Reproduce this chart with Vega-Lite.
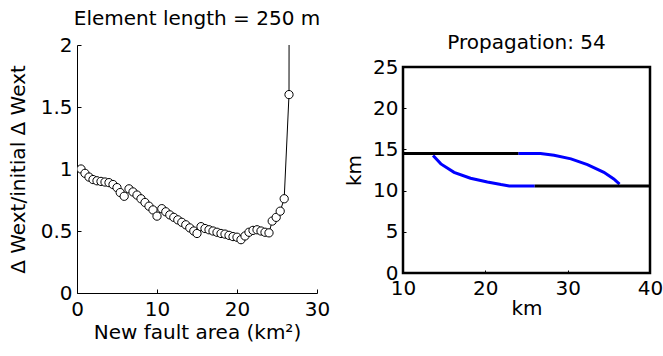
{
  "$schema": "https://vega.github.io/schema/vega-lite/v6.json",
  "padding": {"left": 8, "top": 9, "right": 2, "bottom": 2},
  "background": "white",
  "config": {
    "font": "DejaVu Sans",
    "view": {"stroke": null},
    "title": {"fontSize": 20, "fontWeight": "normal", "color": "#000000"},
    "axis": {
      "grid": false,
      "labelFontSize": 20,
      "titleFontSize": 20,
      "titleFontWeight": "normal",
      "labelColor": "#000000",
      "titleColor": "#000000",
      "domainColor": "#000000",
      "tickColor": "#000000",
      "labelFlush": false,
      "labelOverlap": false
    }
  },
  "datasets": {
    "ratio": [
      {"area": 0.5, "ratio": 1.0},
      {"area": 1.0, "ratio": 0.965},
      {"area": 1.5, "ratio": 0.935},
      {"area": 2.0, "ratio": 0.915},
      {"area": 2.5, "ratio": 0.905},
      {"area": 3.0, "ratio": 0.9},
      {"area": 3.5, "ratio": 0.895},
      {"area": 4.0, "ratio": 0.89},
      {"area": 4.5, "ratio": 0.875},
      {"area": 5.0, "ratio": 0.85},
      {"area": 5.4, "ratio": 0.81},
      {"area": 5.9, "ratio": 0.78},
      {"area": 6.5, "ratio": 0.84},
      {"area": 7.0, "ratio": 0.815},
      {"area": 7.5, "ratio": 0.79},
      {"area": 8.0, "ratio": 0.76},
      {"area": 8.5, "ratio": 0.73},
      {"area": 9.0, "ratio": 0.7},
      {"area": 9.5, "ratio": 0.67},
      {"area": 10.0, "ratio": 0.62},
      {"area": 10.6, "ratio": 0.68},
      {"area": 11.1, "ratio": 0.655},
      {"area": 11.6, "ratio": 0.63},
      {"area": 12.1, "ratio": 0.61},
      {"area": 12.6, "ratio": 0.59},
      {"area": 13.1, "ratio": 0.57},
      {"area": 13.6, "ratio": 0.55},
      {"area": 14.1, "ratio": 0.525},
      {"area": 14.6, "ratio": 0.5},
      {"area": 15.0, "ratio": 0.48},
      {"area": 15.5, "ratio": 0.535},
      {"area": 16.0, "ratio": 0.52},
      {"area": 16.5, "ratio": 0.51},
      {"area": 17.0, "ratio": 0.5},
      {"area": 17.5, "ratio": 0.49},
      {"area": 18.0, "ratio": 0.48},
      {"area": 18.5, "ratio": 0.475},
      {"area": 19.0, "ratio": 0.465},
      {"area": 19.5, "ratio": 0.455},
      {"area": 20.0, "ratio": 0.45},
      {"area": 20.5, "ratio": 0.43},
      {"area": 21.0, "ratio": 0.46},
      {"area": 21.5, "ratio": 0.49},
      {"area": 22.0, "ratio": 0.505},
      {"area": 22.5, "ratio": 0.51},
      {"area": 23.0, "ratio": 0.5},
      {"area": 23.5, "ratio": 0.49},
      {"area": 24.0, "ratio": 0.485},
      {"area": 24.4, "ratio": 0.58},
      {"area": 24.9, "ratio": 0.61},
      {"area": 25.4, "ratio": 0.66},
      {"area": 25.9, "ratio": 0.76},
      {"area": 26.5, "ratio": 1.6},
      {"area": 26.55, "ratio": 4.0}
    ],
    "faults": [
      {"seg": "upper-new", "color": "blue", "ord": 1, "x": 24.0, "y": 14.5},
      {"seg": "upper-new", "color": "blue", "ord": 2, "x": 26.7, "y": 14.5},
      {"seg": "upper-new", "color": "blue", "ord": 3, "x": 28.35, "y": 14.29},
      {"seg": "upper-new", "color": "blue", "ord": 4, "x": 30.4, "y": 13.85},
      {"seg": "upper-new", "color": "blue", "ord": 5, "x": 32.4, "y": 13.16},
      {"seg": "upper-new", "color": "blue", "ord": 6, "x": 34.4, "y": 12.22},
      {"seg": "upper-new", "color": "blue", "ord": 7, "x": 35.6, "y": 11.42},
      {"seg": "upper-new", "color": "blue", "ord": 8, "x": 36.3, "y": 10.8},
      {"seg": "lower-new", "color": "blue", "ord": 1, "x": 13.65, "y": 14.25},
      {"seg": "lower-new", "color": "blue", "ord": 2, "x": 14.6, "y": 13.24},
      {"seg": "lower-new", "color": "blue", "ord": 3, "x": 16.2, "y": 12.22},
      {"seg": "lower-new", "color": "blue", "ord": 4, "x": 18.2, "y": 11.5},
      {"seg": "lower-new", "color": "blue", "ord": 5, "x": 20.25, "y": 11.05},
      {"seg": "lower-new", "color": "blue", "ord": 6, "x": 21.9, "y": 10.73},
      {"seg": "lower-new", "color": "blue", "ord": 7, "x": 22.9, "y": 10.57},
      {"seg": "lower-new", "color": "blue", "ord": 8, "x": 26.0, "y": 10.57},
      {"seg": "upper-old", "color": "black", "ord": 1, "x": 10.0, "y": 14.5},
      {"seg": "upper-old", "color": "black", "ord": 2, "x": 24.0, "y": 14.5},
      {"seg": "lower-old", "color": "black", "ord": 1, "x": 26.0, "y": 10.57},
      {"seg": "lower-old", "color": "black", "ord": 2, "x": 40.0, "y": 10.57}
    ],
    "frame": [
      {"x": 10, "x2": 40, "y": 0, "y2": 25}
    ]
  },
  "hconcat": [
    {
      "width": 240,
      "height": 248,
      "title": {"text": "Element length = 250 m", "offset": 6},
      "data": {"name": "ratio"},
      "layer": [
        {
          "mark": {"type": "line", "color": "#000000", "strokeWidth": 1, "clip": true},
          "encoding": {
            "x": {
              "field": "area", "type": "quantitative",
              "scale": {"domain": [0, 30], "nice": false, "zero": false},
              "axis": {"title": "New fault area (km²)", "values": [0, 10, 20, 30], "tickSize": -4, "labelPadding": 10, "titlePadding": 3}
            },
            "y": {
              "field": "ratio", "type": "quantitative",
              "scale": {"domain": [0, 2], "nice": false, "zero": false},
              "axis": {"title": "Δ Wext/initial Δ Wext", "values": [0, 0.5, 1, 1.5, 2], "format": "~g", "tickSize": -4, "labelPadding": 9, "titlePadding": 12}
            }
          }
        },
        {
          "mark": {"type": "point", "shape": "circle", "filled": true, "fill": "#ffffff", "stroke": "#000000", "strokeWidth": 1, "size": 68, "opacity": 1, "clip": true},
          "encoding": {
            "x": {"field": "area", "type": "quantitative"},
            "y": {"field": "ratio", "type": "quantitative"}
          }
        }
      ]
    },
    {
      "width": 247,
      "height": 228,
      "title": {"text": "Propagation: 54", "offset": -8},
      "layer": [
        {
          "data": {"name": "faults"},
          "mark": {"type": "line", "strokeWidth": 3, "clip": true},
          "encoding": {
            "x": {
              "field": "x", "type": "quantitative",
              "scale": {"domain": [10, 40], "nice": false, "zero": false},
              "axis": {"title": "km", "values": [10, 20, 30, 40], "domain": false, "tickSize": -3, "labelPadding": 8, "titlePadding": 0}
            },
            "y": {
              "field": "y", "type": "quantitative",
              "scale": {"domain": [0, 25], "nice": false, "zero": false, "range": [228, 22]},
              "axis": {"title": "km", "values": [0, 5, 10, 15, 20, 25], "domain": false, "tickSize": -3, "labelPadding": 8, "titlePadding": 8}
            },
            "color": {
              "field": "color", "type": "nominal",
              "scale": {"domain": ["blue", "black"], "range": ["#0000ff", "#000000"]},
              "legend": null
            },
            "detail": {"field": "seg", "type": "nominal"},
            "order": {"field": "ord", "type": "quantitative"}
          }
        },
        {
          "data": {"name": "frame"},
          "mark": {"type": "rect", "fill": null, "fillOpacity": 0, "stroke": "#000000", "strokeWidth": 2.5},
          "encoding": {
            "x": {"field": "x", "type": "quantitative"},
            "x2": {"field": "x2"},
            "y": {"field": "y", "type": "quantitative"},
            "y2": {"field": "y2"}
          }
        }
      ]
    }
  ],
  "spacing": 14
}
